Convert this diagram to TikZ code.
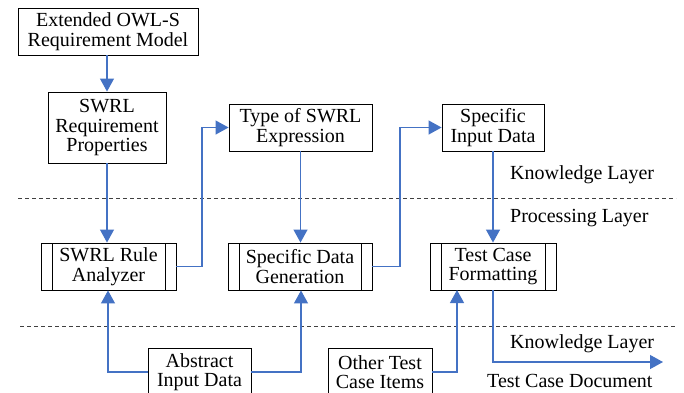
\documentclass[tikz,border=0pt]{standalone}
\usepackage{fontspec}
\newfontfamily\fa{Liberation Serif}
\usetikzlibrary{arrows.meta,calc}
\definecolor{arrblue}{HTML}{4472C4}
\tikzset{
  box/.style={draw=black, line width=0.9pt, inner sep=0pt, align=center,
    font=\fa\fontsize{20}{19.5}\selectfont, minimum height=47pt},
  procbox/.style={box, path picture={
    \draw[line width=0.9pt] ([xshift=11pt]path picture bounding box.north west) -- ([xshift=11pt]path picture bounding box.south west);
    \draw[line width=0.9pt] ([xshift=-11pt]path picture bounding box.north east) -- ([xshift=-11pt]path picture bounding box.south east);}},
  conn/.style={draw=arrblue, line width=1.2pt, -{Triangle[length=13pt,width=14pt]}},
  layerline/.style={draw=black!75, line width=0.9pt, dash pattern=on 4pt off 3pt},
  lbl/.style={anchor=west, inner sep=0pt, font=\fa\fontsize{20}{20}\selectfont}
}
\begin{document}
\begin{tikzpicture}[x=1pt,y=-1pt]
\useasboundingbox (0,0) rectangle (684,392);
\clip (0,0) rectangle (684,392);
% boxes
\node[box, minimum width=180pt] (m1) at (108,31.5) {Extended OWL-S\\Requirement Model};
\node[box, minimum width=118pt, minimum height=71pt] (m2) at (107,127.5) {SWRL\\Requirement\\Properties};
\node[box, minimum width=143pt] (type) at (300.5,127.5) {Type of SWRL\\Expression};
\node[box, minimum width=102pt] (sid) at (493,127.5) {Specific\\Input Data};
\node[procbox, minimum width=135pt] (ana) at (108.5,266.5) {SWRL Rule\\Analyzer};
\node[procbox, minimum width=144pt] (sdg) at (300,266.5) {Specific Data\\Generation};
\node[procbox, minimum width=126pt] (tcf) at (493,266.5) {Test Case\\Formatting};
\node[box, minimum width=103pt] (abs) at (199.5,372) {Abstract\\Input Data};
\node[box, minimum width=104pt] (oth) at (380,372) {Other Test\\Case Items};
% layer lines
\coordinate (l1a) at (18,198); \coordinate (l1b) at (676,198);
\coordinate (l2a) at (20,326); \coordinate (l2b) at (676,326);
\draw[layerline] (l1a) -- (l1b);
\draw[layerline] (l2a) -- (l2b);
% labels
\node[lbl] (kl1) at (510,175) {Knowledge Layer};
\node[lbl] (pl) at (510,218) {Processing Layer};
\node[lbl] (kl2) at (510,344) {Knowledge Layer};
\node[lbl] (tcd) at (487,381) {Test Case Document};
% connectors
\draw[conn] (m1.south -| 107,0) -- (m2.north);
\draw[conn] (m2.south) -- (ana.north -| m2.south);
\draw[conn] (ana.east) -- (202,266.5) |- (type.west);
\draw[conn] (type.south) -- (sdg.north -| type.south);
\draw[conn] (sdg.east) -- (400,266.5) |- (sid.west);
\draw[conn] (sid.south) -- (tcf.north);
\draw[conn] (abs.west) -| (ana.south -| 108,0);
\draw[conn] (abs.east) -| (sdg.south -| 301,0);
\coordinate (tcfin) at (457,290);
\draw[conn] (oth.east) -| (tcfin);
\coordinate (docend) at (663,362);
\draw[conn] (tcf.south) |- (docend);
\end{tikzpicture}
\end{document}
